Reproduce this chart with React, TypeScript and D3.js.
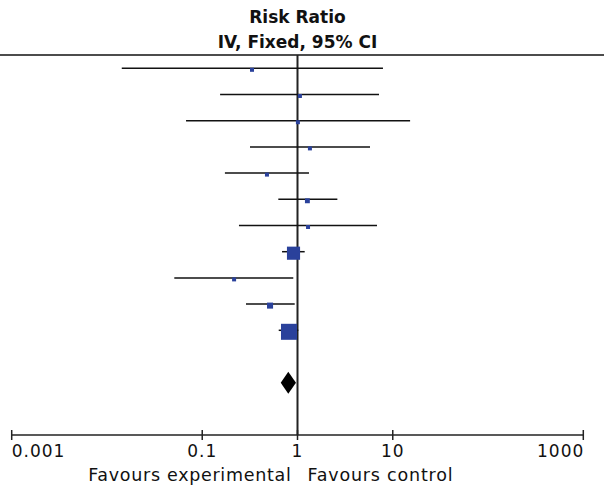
import React, { useEffect, useRef } from 'react';
import * as d3 from 'd3';

// study rows, top to bottom
const estimates = [0.333, 1.06, 1.01, 1.35, 0.478, 1.27, 1.29, 0.908, 0.216, 0.515, 0.814];
const lower = [0.0143, 0.154, 0.0676, 0.317, 0.173, 0.629, 0.243, 0.688, 0.0509, 0.288, 0.635];
const upper = [7.89, 7.17, 15.2, 5.77, 1.32, 2.62, 6.83, 1.19, 0.903, 0.935, 1.02];
const weights = [0.6, 0.9, 0.5, 1.2, 1.3, 3.4, 0.9, 24.5, 1.1, 5.2, 36.4];

// pooled estimate
const pooled = { est: 0.8, lo: 0.667, hi: 0.964 };

const tickValues = [0.001, 0.1, 1, 10, 1000];
const tickLabels = ['0.001', '0.1', '1', '10', '1000'];

const FONT = '"DejaVu Sans", Verdana, sans-serif';

const App = () => {
    const svgRef = useRef();
    const width = 604;
    const height = 487;

    useEffect(() => {
        const svg = d3.select(svgRef.current);
        svg.selectAll('*').remove();

        const x = d3.scaleLog().domain([0.001, 1000]).range([11.7, 583.3]);
        const y = d3.scaleLinear().domain([0, 1]).range([68.3, 94.5]);
        const size = d3.scaleSqrt().domain([0, 36.4]).range([0, 16]);
        const axisY = 435;
        const topY = 55;

        svg.append('text')
            .attr('x', x(1)).attr('y', 22.5)
            .attr('text-anchor', 'middle')
            .attr('font-family', FONT).attr('font-weight', 'bold').attr('font-size', 17)
            .attr('fill', '#111')
            .text('Risk Ratio');
        svg.append('text')
            .attr('x', x(1)).attr('y', 47.5)
            .attr('text-anchor', 'middle')
            .attr('font-family', FONT).attr('font-weight', 'bold').attr('font-size', 17)
            .attr('fill', '#111')
            .text('IV, Fixed, 95% CI');

        svg.append('line')
            .attr('x1', 0).attr('x2', width)
            .attr('y1', topY).attr('y2', topY)
            .attr('stroke', '#111').attr('stroke-width', 1.5);

        // line of no effect
        svg.append('line')
            .attr('x1', x(1)).attr('x2', x(1))
            .attr('y1', topY).attr('y2', axisY)
            .attr('stroke', '#222').attr('stroke-width', 2);

        const rows = estimates.map((e, i) => ({ e, lo: lower[i], hi: upper[i], w: weights[i], i }));

        svg.selectAll('.ci')
            .data(rows)
            .enter()
            .append('line')
            .attr('x1', d => x(d.lo)).attr('x2', d => x(d.hi))
            .attr('y1', d => y(d.i)).attr('y2', d => y(d.i))
            .attr('stroke', '#111').attr('stroke-width', 1.5);

        svg.selectAll('.sq')
            .data(rows)
            .enter()
            .append('rect')
            .each(function (d) {
                const s = Math.max(4, size(d.w));
                d3.select(this)
                    .attr('x', x(d.e) - s / 2)
                    .attr('y', y(d.i) + 1.5 - s / 2)
                    .attr('width', s).attr('height', s);
            })
            .attr('fill', '#2a419b');

        const dy = y(12);
        svg.append('path')
            .attr('d', `M${x(pooled.lo)},${dy}L${x(pooled.est)},${dy - 11}L${x(pooled.hi)},${dy}L${x(pooled.est)},${dy + 11}Z`)
            .attr('fill', '#000');

        // axis
        const g = svg.append('g');
        g.append('line')
            .attr('x1', x(0.001)).attr('x2', x(1000))
            .attr('y1', axisY).attr('y2', axisY)
            .attr('stroke', '#222').attr('stroke-width', 1.5);
        g.selectAll('.tick')
            .data(tickValues)
            .enter()
            .append('line')
            .attr('x1', d => x(d)).attr('x2', d => x(d))
            .attr('y1', axisY - 5).attr('y2', axisY + 5)
            .attr('stroke', '#222').attr('stroke-width', 1.5);
        g.selectAll('.lab')
            .data(tickValues)
            .enter()
            .append('text')
            .attr('x', (d, i) => x(d) + (i === tickValues.length - 1 ? 1 : 0))
            .attr('y', 457)
            .attr('text-anchor', (d, i) => i === 0 ? 'start' : i === tickValues.length - 1 ? 'end' : 'middle')
            .attr('font-family', FONT).attr('font-size', 17)
            .attr('letter-spacing', 1)
            .attr('fill', '#111')
            .text((d, i) => tickLabels[i]);

        g.append('text')
            .attr('x', x(1) - 6).attr('y', 481)
            .attr('text-anchor', 'end')
            .attr('font-family', FONT).attr('font-size', 17.5)
            .attr('letter-spacing', 0.7)
            .attr('fill', '#111')
            .text('Favours experimental');
        g.append('text')
            .attr('x', x(1) + 10).attr('y', 481)
            .attr('text-anchor', 'start')
            .attr('font-family', FONT).attr('font-size', 17.5)
            .attr('letter-spacing', 0.8)
            .attr('fill', '#111')
            .text('Favours control');
    }, []);

    return (
        <svg ref={svgRef} width={width} height={height}
            style={{ position: 'absolute', left: 0, top: 0, background: '#fff' }} />
    );
};

export default App;
